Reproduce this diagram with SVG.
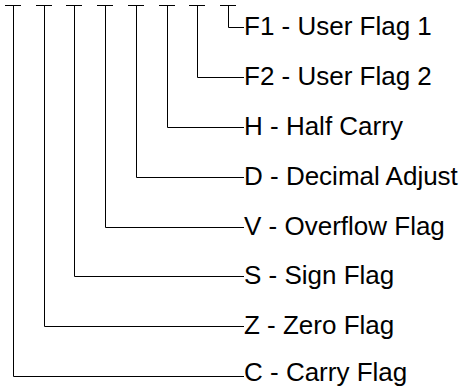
<svg xmlns="http://www.w3.org/2000/svg" width="467" height="387" viewBox="0 0 467 387">
<style>
.ln{fill:none;stroke:#000;stroke-width:1}
.lb{font-family:"Liberation Sans",Arial,sans-serif;font-size:26px;fill:#000}
</style>
<rect width="467" height="387" fill="#fff"/>
<g id="connectors" class="ln">
<path d="M5,5.5H21M13.5,5.5V376.5H244"/>
<path d="M36,5.5H52M44.5,5.5V326.5H244"/>
<path d="M66,5.5H82M74.5,5.5V276.5H244"/>
<path d="M97,5.5H113M105.5,5.5V227.5H244"/>
<path d="M128,5.5H144M136.5,5.5V177.5H244"/>
<path d="M159,5.5H175M167.5,5.5V127.5H244"/>
<path d="M189,5.5H205M197.5,5.5V77.5H244"/>
<path d="M220,5.5H236M228.5,5.5V27.5H244"/>
</g>
<g id="F1"><text class="lb" x="244" y="35">F1 - User Flag 1</text></g>
<g id="F2"><text class="lb" x="244" y="85">F2 - User Flag 2</text></g>
<g id="H"><text class="lb" x="244" y="135">H - Half Carry</text></g>
<g id="D"><text class="lb" x="244" y="185">D - Decimal Adjust</text></g>
<g id="V"><text class="lb" x="244" y="235">V - Overflow Flag</text></g>
<g id="S"><text class="lb" x="244" y="284">S - Sign Flag</text></g>
<g id="Z"><text class="lb" x="244" y="334">Z - Zero Flag</text></g>
<g id="C"><text class="lb" x="244" y="381">C - Carry Flag</text></g>
</svg>
